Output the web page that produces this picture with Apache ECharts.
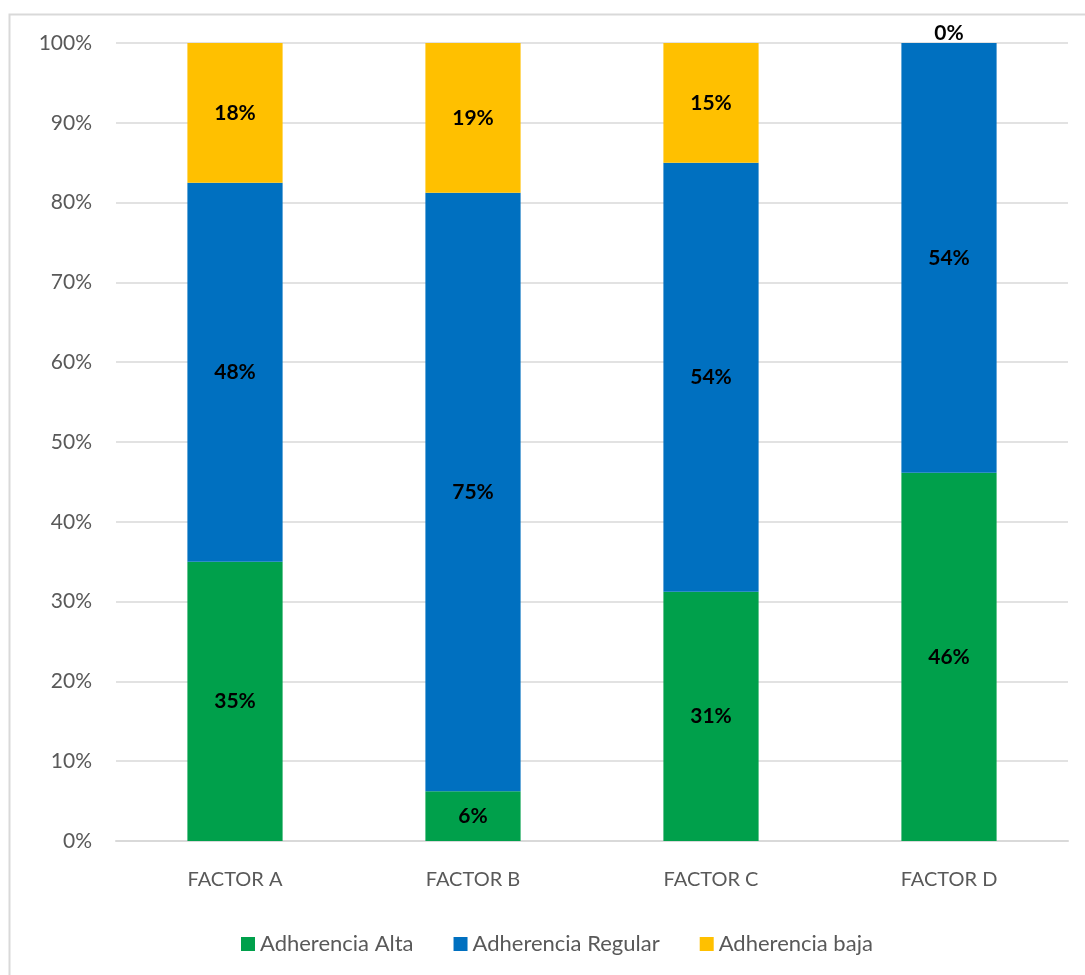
<!DOCTYPE html>
<html>
<head>
<meta charset="utf-8">
<script src="https://cdn.jsdelivr.net/npm/echarts@6/dist/echarts.min.js"></script>
<style>
html,body{margin:0;padding:0;background:#fff;}
#chart{width:1085px;height:975px;}
</style>
</head>
<body>
<div id="chart"></div>
<script>
const categories = ['FACTOR A', 'FACTOR B', 'FACTOR C', 'FACTOR D'];
const seriesNames = ['Adherencia Alta', 'Adherencia Regular', 'Adherencia baja'];
const alta = [35.0, 6.25, 31.25, 46.15];
const regular = [47.5, 75.0, 53.75, 53.85];
const baja = [17.5, 18.75, 15.0, 0.0];
const colors = ['#00A04B', '#0070C0', '#FFC000'];
const FONT = 'Lato, "Open Sans", sans-serif';

const chart = echarts.init(document.getElementById('chart'), null, {renderer: 'canvas'});

function mk(name, arr, color) {
  return {
    name: name,
    type: 'bar',
    stack: 'total',
    barWidth: '40%',
    itemStyle: {color: color},
    label: {
      show: true,
      position: 'inside',
      color: '#000',
      fontWeight: 'bold',
      fontSize: 21,
      fontFamily: FONT,
      formatter: p => Math.round(p.value) + '%'
    },
    data: arr.map(v => v === 0 ? {value: v, label: {offset: [0, -10]}} : v)
  };
}

chart.setOption({
  animation: false,
  backgroundColor: '#fff',
  graphic: [{
    type: 'rect',
    shape: {x: 9.5, y: 14.5, width: 1100, height: 1000},
    style: {fill: 'none', stroke: '#d9d9d9', lineWidth: 2},
    silent: true,
    z: -1
  }],
  grid: {left: 116, right: 17, top: 43, bottom: 134, containLabel: false},
  legend: {
    bottom: 15,
    left: 236,
    itemWidth: 14,
    itemHeight: 14,
    itemGap: 40,
    icon: 'rect',
    textStyle: {fontSize: 22, color: '#595959', fontFamily: FONT},
    data: seriesNames
  },
  xAxis: {
    type: 'category',
    data: categories,
    axisLine: {lineStyle: {color: '#d9d9d9', width: 2}},
    axisTick: {show: false},
    axisLabel: {color: '#595959', fontSize: 20, fontFamily: FONT, margin: 29}
  },
  yAxis: {
    type: 'value',
    min: 0,
    max: 100,
    interval: 10,
    axisLine: {show: false},
    axisTick: {show: false},
    splitLine: {lineStyle: {color: '#d9d9d9', width: 1.5}},
    axisLabel: {color: '#595959', fontSize: 21, fontFamily: FONT, margin: 24, formatter: v => v + '%'}
  },
  series: [
    mk(seriesNames[0], alta, colors[0]),
    mk(seriesNames[1], regular, colors[1]),
    mk(seriesNames[2], baja, colors[2])
  ]
});
</script>
</body>
</html>
